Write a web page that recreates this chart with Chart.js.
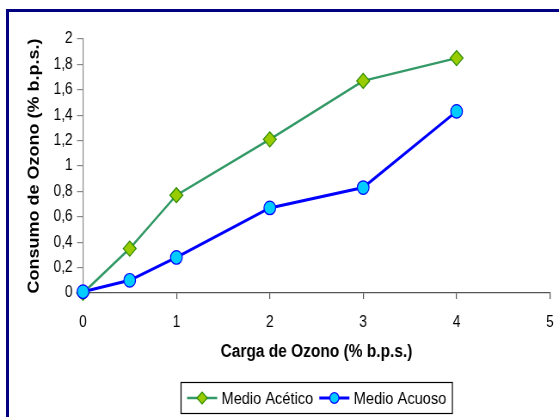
<!DOCTYPE html>
<html>
<head>
<meta charset="utf-8">
<script src="https://cdn.jsdelivr.net/npm/chart.js@4/dist/chart.umd.min.js"></script>
<style>
  html, body { margin: 0; padding: 0; background: #fff; overflow: hidden; }
  #wrap { position: relative; width: 559px; height: 417px; overflow: hidden; }
  #frame { position: absolute; left: 6px; top: 9px; width: 700px; height: 600px;
           border-left: 3px solid #000080; border-top: 3px solid #000080; box-sizing: border-box; }
  /* the drawing is laid out wide and then compressed horizontally */
  #chart { position: absolute; left: 0; top: 0; transform: scaleX(0.86); transform-origin: 0 0; }
</style>
</head>
<body>
<div id="wrap">
  <div id="frame"></div>
  <canvas id="chart" width="650" height="417"></canvas>
</div>
<script>
// Ozone load (% b.p.s.) applied in each run
const cargaOzono = [0, 0.5, 1, 2, 3, 4];
// Ozone consumption (% b.p.s.) for each medium
const medioAcetico = [0, 0.35, 0.77, 1.21, 1.67, 1.85];
const medioAcuoso = [0.01, 0.1, 0.28, 0.67, 0.83, 1.43];

const seriesNames = ['Medio Acético', 'Medio Acuoso'];

const xTickValues = [0, 1, 2, 3, 4, 5];
const xTickLabels = ['0', '1', '2', '3', '4', '5'];
const yTickValues = [0, 0.2, 0.4, 0.6, 0.8, 1, 1.2, 1.4, 1.6, 1.8, 2];
const yTickLabels = ['0', '0,2', '0,4', '0,6', '0,8', '1', '1,2', '1,4', '1,6', '1,8', '2'];

const FONT = '"Liberation Sans", Arial, sans-serif';

function points(ys) {
  return cargaOzono.map((x, i) => ({ x: x, y: ys[i] }));
}

// Boxed legend below the plot: line segment with marker, then the series name
const boxLegend = {
  id: 'boxLegend',
  afterDraw(chart) {
    const ctx = chart.ctx;
    const dsList = chart.data.datasets;
    ctx.save();
    ctx.font = '17px ' + FONT;
    const lineLen = 35, gap = 5, itemGap = 7, padX = 7;
    const widths = dsList.map(ds => lineLen + gap + ctx.measureText(ds.label).width);
    const total = padX * 2 + widths.reduce((a, b) => a + b, 0) + itemGap * (dsList.length - 1);
    const cx = (chart.chartArea.left + chart.chartArea.right) / 2;
    const boxX = Math.round(cx - total / 2) + 0.5;
    const boxY = 382.5, boxH = 31;
    ctx.fillStyle = '#fff';
    ctx.fillRect(boxX, boxY, total, boxH);
    ctx.strokeStyle = '#000';
    ctx.lineWidth = 1.2;
    ctx.strokeRect(boxX, boxY, total, boxH);
    const midY = boxY + boxH / 2;
    let x = boxX + padX;
    dsList.forEach((ds, i) => {
      ctx.strokeStyle = ds.borderColor;
      ctx.lineWidth = ds.borderWidth;
      ctx.beginPath();
      ctx.moveTo(x, midY);
      ctx.lineTo(x + lineLen, midY);
      ctx.stroke();
      ctx.fillStyle = ds.pointBackgroundColor;
      ctx.strokeStyle = ds.pointBorderColor;
      ctx.lineWidth = ds.pointBorderWidth;
      Chart.helpers.drawPoint(ctx, {
        pointStyle: ds.pointStyle, rotation: 0,
        radius: ds.pointRadius - 1.5, borderWidth: ds.pointBorderWidth
      }, x + lineLen / 2, midY);
      ctx.fillStyle = '#000';
      ctx.textBaseline = 'middle';
      ctx.textAlign = 'left';
      ctx.fillText(ds.label, x + lineLen + gap, midY + 1);
      x += widths[i] + itemGap;
    });
    ctx.restore();
  }
};

new Chart(document.getElementById('chart'), {
  type: 'line',
  data: {
    datasets: [
      {
        label: seriesNames[0],
        data: points(medioAcetico),
        borderColor: '#339966',
        borderWidth: 2.4,
        pointStyle: 'rectRot',
        pointRadius: 7.5,
        pointBackgroundColor: '#99cc00',
        pointBorderColor: '#2e8b00',
        pointBorderWidth: 1.2,
        order: 1,
        clip: false
      },
      {
        label: seriesNames[1],
        data: points(medioAcuoso),
        borderColor: '#0000ff',
        borderWidth: 3,
        pointStyle: 'circle',
        pointRadius: 6.8,
        pointBackgroundColor: '#00ccff',
        pointBorderColor: '#0000ff',
        pointBorderWidth: 1.2,
        order: 0,
        clip: false
      }
    ]
  },
  options: {
    responsive: false,
    animation: false,
    devicePixelRatio: 1,
    layout: { padding: { top: 39, right: 10.5, left: 0, bottom: 0 } },
    plugins: {
      legend: { display: false },
      tooltip: { enabled: false }
    },
    elements: { line: { tension: 0 } },
    scales: {
      x: {
        type: 'linear',
        min: 0, max: 5,
        afterBuildTicks(scale) { scale.ticks = xTickValues.map(v => ({ value: v })); },
        afterFit(scale) { scale.height = 124; scale.paddingLeft = 0; scale.paddingRight = 0; },
        grid: { drawOnChartArea: false, drawTicks: true, tickLength: 6, color: '#555', lineWidth: 1.2 },
        border: { color: '#555', width: 1.2 },
        ticks: {
          color: '#000', padding: 14,
          font: { family: FONT, size: 16 },
          maxRotation: 0,
          callback(value) { const i = xTickValues.indexOf(value); return i >= 0 ? xTickLabels[i] : ''; }
        },
        title: {
          display: true, text: 'Carga de Ozono (% b.p.s.)', color: '#000',
          font: { family: FONT, size: 18, weight: 'bold' },
          padding: { top: 0, bottom: 54 }
        }
      },
      y: {
        type: 'linear',
        min: 0, max: 2,
        afterBuildTicks(scale) { scale.ticks = yTickValues.map(v => ({ value: v })); },
        afterFit(scale) { scale.width = 96.5; },
        grid: { drawOnChartArea: false, drawTicks: true, tickLength: 7, color: '#888', lineWidth: 1.2 },
        border: { color: '#888', width: 1.2 },
        ticks: {
          color: '#000', padding: 5,
          font: { family: FONT, size: 16 },
          callback(value) { const i = yTickValues.findIndex(v => Math.abs(v - value) < 1e-9); return i >= 0 ? yTickLabels[i] : ''; }
        },
        title: {
          display: true, text: 'Consumo de Ozono (% b.p.s.)', color: '#000',
          font: { family: FONT, size: 18, weight: 'bold' },
          padding: { top: 29, bottom: 0 }
        }
      }
    }
  },
  plugins: [boxLegend]
});
</script>
</body>
</html>
